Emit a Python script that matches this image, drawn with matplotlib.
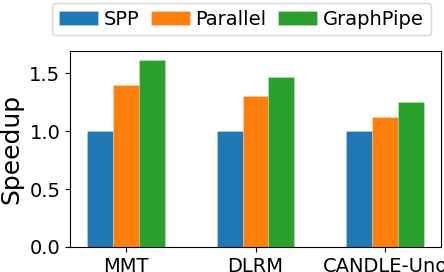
import matplotlib
matplotlib.use("Agg")
import matplotlib.pyplot as plt
import numpy as np

categories = ["MMT", "DLRM", "CANDLE-Uno"]
series_names = ["SPP", "Parallel", "GraphPipe"]
spp = [1.0, 1.0, 1.0]
parallel = [1.40, 1.30, 1.12]
graphpipe = [1.61, 1.47, 1.25]
colors = ["#1f77b4", "#ff7f0e", "#2ca02c"]

fig = plt.figure(figsize=(4.44, 2.72), dpi=100)
ax = fig.add_axes([0.158, 0.092, 0.835, 0.72])
x = np.arange(len(categories))
w = 0.2
for i, (vals, name) in enumerate(zip([spp, parallel, graphpipe], series_names)):
    ax.bar(x + (i - 1) * w, vals, w, label=name, color=colors[i],
           edgecolor=(1, 1, 1, 0.3), linewidth=0.5)
ax.set_xticks(x)
ax.set_xticklabels(categories, fontsize=14)
ax.tick_params(axis="y", labelsize=14)
ax.set_yticks([0.0, 0.5, 1.0, 1.5])
ax.set_ylabel("Speedup", fontsize=18)
ax.legend(loc="lower center", bbox_to_anchor=(0.462, 1.08), ncol=3, fontsize=14,
          handlelength=2.0, columnspacing=0.6, handletextpad=0.3, borderaxespad=0,
          borderpad=0.35)
fig.savefig("out.png", dpi=100)
